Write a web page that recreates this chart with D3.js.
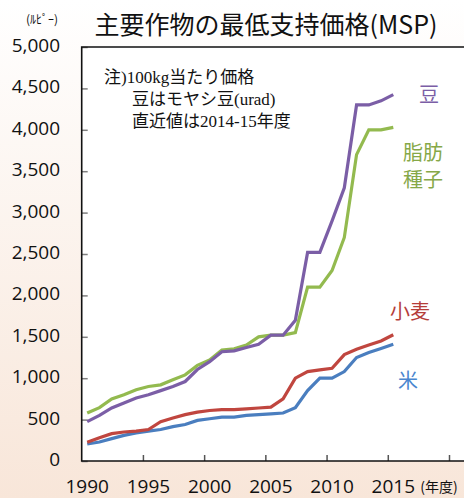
<!DOCTYPE html>
<html><head><meta charset="utf-8">
<script src="https://cdn.jsdelivr.net/npm/d3@7"></script>
<style>html,body{margin:0;padding:0;background:#fff}svg{display:block}</style>
</head><body><svg id="c" width="464" height="498"></svg>
<script>
// ---- data ----
const years = d3.range(1990, 2016);
const beans    = [475,550,640,700,760,800,850,900,960,1105,1200,1320,1330,1370,1410,1520,1520,1700,2520,2520,2900,3300,4300,4300,4350,4425];
const oilseeds = [580,645,750,800,860,900,920,980,1040,1155,1220,1340,1355,1400,1500,1520,1520,1550,2100,2100,2300,2700,3700,4000,4000,4030];
const wheat    = [225,280,330,350,360,380,475,520,560,590,610,620,620,630,640,650,750,1000,1080,1100,1120,1285,1350,1400,1450,1525];
const rice     = [205,230,270,310,340,360,380,415,440,490,510,530,530,550,560,570,580,645,850,1000,1000,1080,1250,1310,1360,1410];
const seriesNames = ["豆","脂肪種子","小麦","米"];
const xTickYears = [1990,1995,2000,2005,2010,2015,2020];
const xTickLabels = ["1990","1995","2000","2005","2010","2015"];
const yTickValues = [0,500,1000,1500,2000,2500,3000,3500,4000,4500,5000];
const noteLines = ["注)100kg当たり価格","豆はモヤシ豆(urad)","直近値は2014-15年度"];

// ---- layout ----
const W = 464, H = 498;
const mLeft = 81.7, mTop = 47, mBottom = 461;
const svg = d3.select("#c");
const defs = svg.append("defs");
const grad = defs.append("linearGradient").attr("id","bg").attr("x1",0).attr("y1",0).attr("x2",0).attr("y2",1);
grad.append("stop").attr("offset","0%").attr("stop-color","#ffffff");
grad.append("stop").attr("offset","100%").attr("stop-color","#f8e6d9");
svg.append("rect").attr("width",W).attr("height",H).attr("fill","url(#bg)");

const x = d3.scaleLinear().domain([1990, 2020]).range([mLeft, 449]);
const y = d3.scaleLinear().domain([0, 5000]).range([mBottom, mTop]);
const off = 0.45;

// plot area
svg.append("rect").attr("x",mLeft).attr("y",mTop).attr("width",W-mLeft+2).attr("height",mBottom-mTop).attr("fill","#fff");

// y axis
const yAxis = svg.append("g").attr("transform",`translate(${mLeft},0)`)
  .call(d3.axisRight(y).tickValues(yTickValues).tickSize(6).tickFormat(""));
yAxis.select(".domain").remove();
yAxis.selectAll(".tick line").attr("stroke","#7f7f7f").attr("stroke-width",1.5);
svg.append("g").selectAll("text").data(yTickValues).join("text")
  .attr("x",60).attr("y",d=>y(d)-2).attr("text-anchor","end").attr("dominant-baseline","central")
  .attr("font-family","'Open Sans', sans-serif").attr("font-size",19).attr("fill","#111")
  .text(d=>d3.format(",")(d));

// x axis
const xAxis = svg.append("g").attr("transform",`translate(0,${mBottom})`)
  .call(d3.axisTop(x).tickValues(xTickYears.slice(1)).tickSize(6).tickFormat(""));
xAxis.select(".domain").remove();
xAxis.selectAll(".tick line").attr("stroke","#555").attr("stroke-width",1.5);
svg.append("g").selectAll("text").data(xTickLabels).join("text")
  .attr("x",d=>x(+d+off)).attr("y",493).attr("text-anchor","middle")
  .attr("font-family","'Open Sans', sans-serif").attr("font-size",19).attr("fill","#111")
  .text(d=>d);
svg.append("text").attr("x",439).attr("y",486).attr("text-anchor","middle").attr("dominant-baseline","central")
  .attr("font-family","'Noto Sans CJK JP', sans-serif").attr("font-size",14).attr("fill","#111").text("(年度)");

// frame lines
svg.append("path").attr("d",`M${W+2},${mTop}H${mLeft}V${mBottom}H${W+2}`).attr("fill","none").attr("stroke","#111").attr("stroke-width",1.6);

// series
const series = [
  {name:seriesNames[3], vals:rice, color:"#4a7ebf"},
  {name:seriesNames[2], vals:wheat, color:"#c0463f"},
  {name:seriesNames[1], vals:oilseeds, color:"#93ba4f"},
  {name:seriesNames[0], vals:beans, color:"#7b5ea6"}
];
const line = d3.line().x((d,i)=>x(years[i]+off)).y(d=>y(d));
svg.append("g").selectAll("path").data(series).join("path")
  .attr("d",d=>line(d.vals)).attr("fill","none").attr("stroke",d=>d.color)
  .attr("stroke-width",3.2).attr("stroke-linejoin","miter");

// series labels
const lab = svg.append("g").attr("font-family","'Noto Sans CJK JP', sans-serif").attr("font-size",20).attr("text-anchor","middle").attr("dominant-baseline","central");
lab.append("text").attr("x",429).attr("y",93).attr("fill","#7b5ea6").text(seriesNames[0]);
lab.append("text").attr("x",423).attr("y",151).attr("fill","#86a848").text(seriesNames[1].slice(0,2));
lab.append("text").attr("x",423).attr("y",178).attr("fill","#86a848").text(seriesNames[1].slice(2));
lab.append("text").attr("x",410).attr("y",310).attr("fill","#b53d3a").text(seriesNames[2]);
lab.append("text").attr("x",408).attr("y",379).attr("fill","#4a86cf").text(seriesNames[3]);

// note
const note = svg.append("g").attr("font-family","'Liberation Serif','Noto Sans CJK JP', serif").attr("font-size",17).attr("fill","#111").attr("dominant-baseline","central");
note.append("text").attr("x",104).attr("y",77).text(noteLines[0]);
note.append("text").attr("x",132).attr("y",99).text(noteLines[1]);
note.append("text").attr("x",132).attr("y",121).text(noteLines[2]);

// title
svg.append("text").attr("x",266).attr("y",23).attr("text-anchor","middle").attr("dominant-baseline","central")
  .attr("font-family","'Noto Sans CJK JP', sans-serif").attr("font-size",25).attr("fill","#111")
  .text("主要作物の最低支持価格(MSP)");
svg.append("text").attr("x",42).attr("y",18).attr("text-anchor","middle").attr("dominant-baseline","central")
  .attr("font-family","'Noto Sans CJK JP', sans-serif").attr("font-size",12).attr("fill","#111")
  .text("(ﾙﾋﾟｰ)");
</script></body></html>
